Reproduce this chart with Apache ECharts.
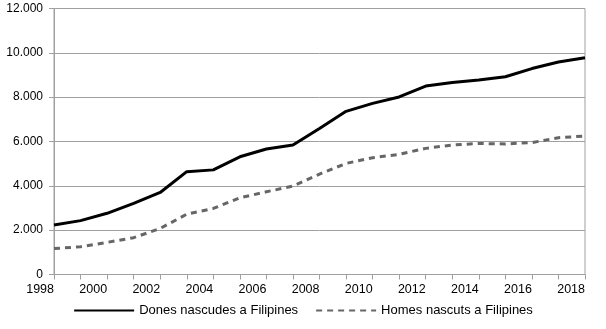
<!DOCTYPE html>
<html>
<head>
<meta charset="utf-8">
<script src="https://cdn.jsdelivr.net/npm/echarts@6/dist/echarts.min.js"></script>
<style>
html,body{margin:0;padding:0;background:#fff;}
#c{width:606px;height:329px;}
</style>
</head>
<body>
<div id="c"></div>
<script>
const years = [1998,1999,2000,2001,2002,2003,2004,2005,2006,2007,2008,2009,2010,2011,2012,2013,2014,2015,2016,2017,2018];
const dones = [2230,2430,2760,3210,3700,4640,4720,5310,5660,5840,6590,7360,7720,8010,8500,8660,8770,8920,9290,9590,9780];
const homes = [1170,1250,1450,1660,2080,2720,2980,3460,3730,3990,4530,5010,5270,5420,5690,5840,5910,5890,5950,6170,6250];
const seriesNames = ['Dones nascudes a Filipines','Homes nascuts a Filipines'];
const yTicks = [0,2000,4000,6000,8000,10000,12000];

function fmtThousands(v){
  return String(v).replace(/\B(?=(\d{3})+(?!\d))/g,'.');
}
const gridColor = '#a0a0a0';
const font = 'Liberation Sans, Arial, sans-serif';

const chart = echarts.init(document.getElementById('c'), null, {renderer:'canvas'});
chart.setOption({
  animation:false,
  backgroundColor:'#fff',
  grid:{left:54,right:21,top:8.5,bottom:54.5,show:true,borderColor:gridColor,borderWidth:1,backgroundColor:'transparent'},
  legend:{
    bottom:7,left:'center',
    itemWidth:60,itemHeight:10,itemGap:17,
    itemStyle:{opacity:0},
    textStyle:{fontFamily:font,fontSize:13,color:'#000'},
    data:seriesNames
  },
  xAxis:{
    type:'value',min:years[0],max:years[years.length-1],interval:1,
    axisLine:{show:true,lineStyle:{color:gridColor,width:1}},
    axisTick:{show:true,length:5,lineStyle:{color:gridColor}},
    splitLine:{show:false},
    axisLabel:{
      align:'right',margin:9,
      fontFamily:font,fontSize:12.5,color:'#000',
      formatter:function(v){return (v%2===0)?String(v):'';}
    }
  },
  yAxis:{
    type:'value',min:yTicks[0],max:yTicks[yTicks.length-1],interval:2000,
    axisLine:{show:true,lineStyle:{color:gridColor,width:1}},
    axisTick:{show:true,length:5,lineStyle:{color:gridColor}},
    splitLine:{show:true,lineStyle:{color:gridColor,width:1}},
    axisLabel:{
      margin:11,fontFamily:font,fontSize:12,color:'#000',
      formatter:function(v){return fmtThousands(v);}
    }
  },
  series:[
    {
      name:seriesNames[0],type:'line',symbol:'none',
      data:years.map((y,i)=>[y,dones[i]]),
      lineStyle:{color:'#000',width:3},
      itemStyle:{color:'#000'}
    },
    {
      name:seriesNames[1],type:'line',symbol:'none',
      data:years.map((y,i)=>[y,homes[i]]),
      lineStyle:{color:'#666',width:3,type:[6,5]},
      itemStyle:{color:'#666'}
    }
  ]
});
</script>
</body>
</html>
